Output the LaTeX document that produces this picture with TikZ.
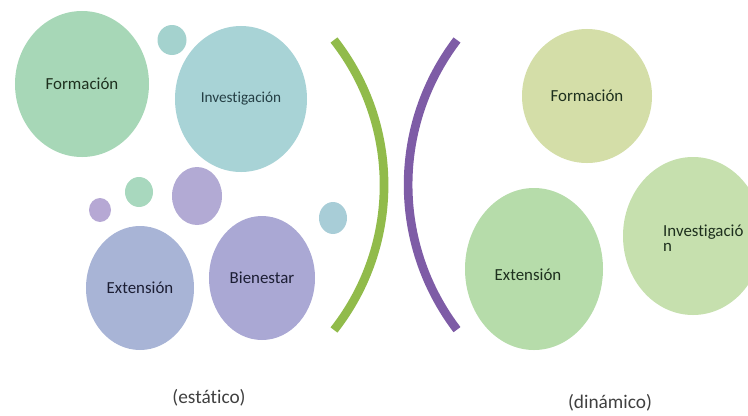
\documentclass[tikz,border=0pt]{standalone}
\usepackage{fontspec}
\setmainfont{Carlito}[Ligatures=NoCommon]
\usetikzlibrary{shapes.geometric}

\definecolor{formAfill}{RGB}{167,215,183}
\definecolor{invAfill}{RGB}{168,211,214}
\definecolor{extAfill}{RGB}{168,180,214}
\definecolor{bieAfill}{RGB}{170,168,212}
\definecolor{dotteal}{RGB}{164,210,206}
\definecolor{dotgreen}{RGB}{168,216,190}
\definecolor{dotpurple}{RGB}{182,168,212}
\definecolor{midpurple}{RGB}{178,170,212}
\definecolor{dotblue}{RGB}{168,205,215}
\definecolor{formBfill}{RGB}{212,222,168}
\definecolor{extBfill}{RGB}{182,220,170}
\definecolor{invBfill}{RGB}{198,224,174}
\definecolor{bowgreen}{RGB}{145,187,75}
\definecolor{bowpurple}{RGB}{126,92,166}
\definecolor{txtgreen}{RGB}{30,48,30}
\definecolor{txtteal}{RGB}{36,62,68}
\definecolor{txtblue}{RGB}{28,30,52}

\begin{document}
\begin{tikzpicture}[x=0.03cm, y=-0.03cm,
  bubble/.style={ellipse, inner sep=0pt, font=\fontsize{14.4}{13}\selectfont},
  word/.style={inner sep=0pt, font=\fontsize{14.4}{13}\selectfont},
  dot/.style={ellipse, inner sep=0pt},
  bow/.style={line width=0.26cm},
  lbl/.style={font=\fontsize{16.5}{18}\selectfont, text=black!75}]
%\draw [help lines] (0,0) grid (748,415);
\useasboundingbox (0,0) rectangle (748,415);
\clip (0,0) rectangle (748,415);

% left side (estatico)

\node [bubble, fill=formAfill, text=txtgreen, minimum width=4.02cm, minimum height=4.38cm] (formA) at (82,84) {Formación};
\node [dot, fill=dotteal, minimum width=0.87cm, minimum height=0.9cm] (dotA) at (172,40) {};
\node [bubble, fill=invAfill, text=txtteal, minimum width=3.96cm, minimum height=4.38cm, font=\fontsize{13}{15}\selectfont] (invA) at (241,99) {Investigación};

  % small bubbles
\node [dot, fill=midpurple, minimum width=1.5cm, minimum height=1.74cm] (dotB) at (197,196) {};
\node [dot, fill=dotgreen, minimum width=0.84cm, minimum height=0.9cm] (dotC) at (139,192) {};
\node [dot, fill=dotpurple, minimum width=0.66cm, minimum height=0.72cm] (dotD) at (100,210) {};
\node [dot, fill=dotblue, minimum width=0.84cm, minimum height=0.96cm] (dotE) at (333,218) {};

\node [bubble, fill=extAfill, text=txtblue, minimum width=3.24cm, minimum height=3.72cm] (extA) at (140,288) {Extensión};
\node [bubble, fill=bieAfill, text=txtblue, minimum width=3.18cm, minimum height=3.72cm] (bieA) at (262,278) {Bienestar};

% the two brackets
\draw [bow, bowgreen] (334,40) arc (-38.1:38.1:235);
\draw [bow, bowpurple] (457,40) arc (217.3:142.7:239);

% right side (dinamico)

\node [bubble, fill=formBfill, text=txtgreen, minimum width=3.9cm, minimum height=4.02cm] (formB) at (587,96) {Formación};
\node [bubble, fill=extBfill, minimum width=4.14cm, minimum height=4.86cm] (extB) at (534,269) {};
\node [word, text=txtgreen] (extBtxt) at (528,275) {Extensión};
\node [bubble, fill=invBfill, minimum width=4.2cm, minimum height=4.74cm] (invB) at (693,236) {};
\node [word, text=txtgreen, align=left, anchor=west] (invBtxt) at (663,238) {Investigació\\n};

% labels
\node [lbl] (estatico) at (209,398) {(estático)};
\node [lbl] (dinamico) at (610,403) {(dinámico)};

\end{tikzpicture}
\end{document}
